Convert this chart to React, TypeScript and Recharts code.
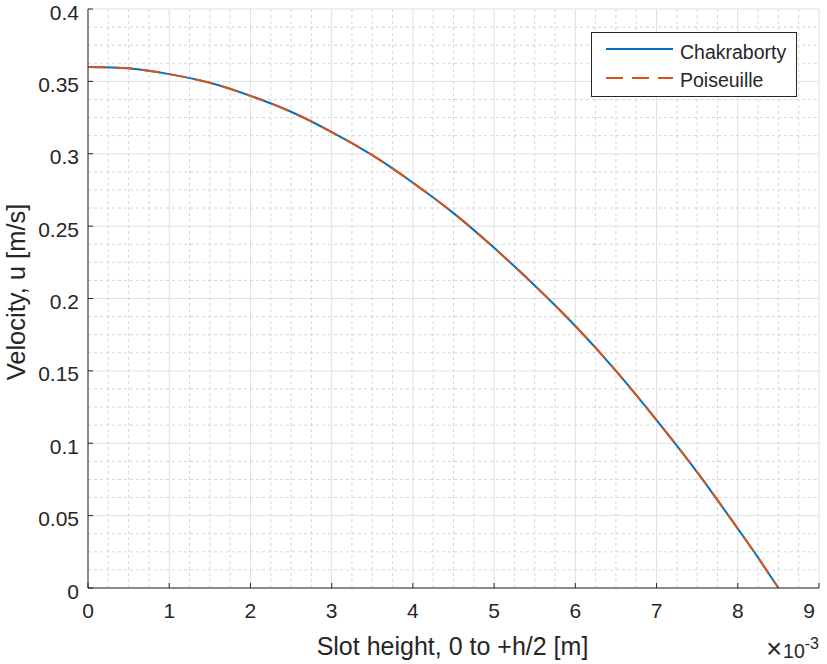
import {
  LineChart,
  Line,
  XAxis,
  YAxis,
  CartesianGrid,
  ReferenceLine,
  Legend,
  Label
} from "recharts";

// slot height in metres, velocities in m/s
const slotHeight = [0, 0.0005, 0.001, 0.0015, 0.002, 0.0025, 0.003, 0.0035, 0.004, 0.0045, 0.005, 0.0055, 0.006, 0.0065, 0.007, 0.0075, 0.008, 0.00825, 0.0085];
const chakraborty = [0.360, 0.359, 0.355, 0.349, 0.340, 0.329, 0.315, 0.299, 0.280, 0.259, 0.235, 0.209, 0.181, 0.150, 0.116, 0.080, 0.041, 0.021, 0.000];
const poiseuille = [0.360, 0.359, 0.355, 0.349, 0.340, 0.329, 0.315, 0.299, 0.280, 0.259, 0.235, 0.209, 0.181, 0.150, 0.116, 0.080, 0.041, 0.021, 0.000];

const xTicks = [0, 0.001, 0.002, 0.003, 0.004, 0.005, 0.006, 0.007, 0.008, 0.009];
const yTicks = [0, 0.05, 0.1, 0.15, 0.2, 0.25, 0.3, 0.35, 0.4];

const BLUE = "#0072BD";
const ORANGE = "#D95319";
const INK = "#262626";
const FONT = "'Liberation Sans', Arial, Helvetica, sans-serif";

// minor grid: 4 subdivisions per major step
const xMinor: number[] = [];
for (let i = 1; i < 36; i++) if (i % 4 !== 0) xMinor.push(i * 0.00025);
const yMinor: number[] = [];
for (let i = 1; i < 32; i++) if (i % 4 !== 0) yMinor.push(i * 0.0125);

const data = slotHeight.map((x, i) => ({
  x,
  chak: chakraborty[i],
  pois: poiseuille[i]
}));

const XTick = ({ x, y, payload }: any) => (
  <text x={x} y={y + 15} textAnchor="middle" fontSize={21} fill={INK} fontFamily={FONT}>
    {Math.round(payload.value * 1000)}
  </text>
);

const YTick = ({ x, y, payload }: any) => (
  <text x={x} y={y + 10.5} textAnchor="end" fontSize={21} fill={INK} fontFamily={FONT}>
    {String(+payload.value.toFixed(2))}
  </text>
);

const XLabel = ({ viewBox }: any) => {
  const cx = viewBox.x + viewBox.width / 2;
  const right = viewBox.x + viewBox.width;
  return (
    <g fontFamily={FONT} fill={INK}>
      <text x={cx - 1} y={655} textAnchor="middle" fontSize={25}>
        Slot height, 0 to +h/2 [m]
      </text>
      <text x={right} y={658} textAnchor="end" fontSize={19.5}>
        <tspan fontSize={27}>×</tspan>
        <tspan dx={1}>10</tspan>
        <tspan dy={-9} fontSize={16}>-3</tspan>
      </text>
    </g>
  );
};

const YLabel = () => (
  <text
    x={25}
    y={292}
    transform="rotate(-90, 25, 292)"
    textAnchor="middle"
    fontSize={25.5}
    fill={INK}
    fontFamily={FONT}
  >
    Velocity, u [m/s]
  </text>
);

const LegendBox = () => (
  <svg width={206} height={65} style={{ display: "block" }}>
    <rect x={0.5} y={0.5} width={205} height={64} fill="#fff" stroke={INK} strokeWidth={1} />
    <line x1={15} x2={82} y1={17} y2={17} stroke={BLUE} strokeWidth={2} />
    <text x={89} y={27} fontSize={19.5} fill={INK} fontFamily={FONT}>Chakraborty</text>
    <line x1={15} x2={82} y1={46} y2={46} stroke={ORANGE} strokeWidth={2} strokeDasharray="17 9" />
    <text x={89} y={55} fontSize={19.5} fill={INK} fontFamily={FONT}>Poiseuille</text>
  </svg>
);

export default function App() {
  return (
    <div style={{ position: "absolute", left: 0, top: 0, width: 827, height: 664, background: "#fff" }}>
      <LineChart
        width={827}
        height={664}
        data={data}
        margin={{ top: 9, right: 8, left: 0, bottom: 0 }}
      >
        <CartesianGrid stroke="#e0e0e0" strokeWidth={1} />
        {xMinor.map(v => (
          <ReferenceLine key={`xm-${v}`} x={v} stroke="#d6d6d6" strokeDasharray="3 3" />
        ))}
        {yMinor.map(v => (
          <ReferenceLine key={`ym-${v}`} y={v} stroke="#d6d6d6" strokeDasharray="3 3" />
        ))}

        <XAxis
          dataKey="x"
          type="number"
          domain={[0, 0.009]}
          ticks={xTicks}
          allowDataOverflow
          height={76}
          stroke={INK}
          tickSize={-5}
          tickMargin={20}
          tick={<XTick />}
        >
          <Label content={<XLabel />} />
        </XAxis>
        <XAxis
          xAxisId="top"
          orientation="top"
          type="number"
          domain={[0, 0.009]}
          ticks={xTicks}
          height={0}
          stroke={INK}
          tickSize={-5}
          tick={false}
        />
        <YAxis
          type="number"
          domain={[0, 0.4]}
          ticks={yTicks}
          width={88}
          stroke={INK}
          tickSize={-5}
          tickMargin={14}
          tick={<YTick />}
        >
          <Label content={<YLabel />} />
        </YAxis>
        <YAxis
          yAxisId="right"
          orientation="right"
          type="number"
          domain={[0, 0.4]}
          ticks={yTicks}
          width={0}
          stroke={INK}
          tickSize={-5}
          tick={false}
        />

        <Line
          dataKey="chak"
          name="Chakraborty"
          type="natural"
          stroke={BLUE}
          strokeWidth={2}
          dot={false}
          isAnimationActive={false}
        />
        <Line
          dataKey="pois"
          name="Poiseuille"
          type="natural"
          stroke={ORANGE}
          strokeWidth={2}
          strokeDasharray="18 9"
          dot={false}
          isAnimationActive={false}
        />

        <Legend
          layout="vertical"
          align="center"
          verticalAlign="middle"
          content={<LegendBox />}
          wrapperStyle={{ position: "absolute", left: 591, top: 32, width: 206, height: 65 }}
        />
      </LineChart>
    </div>
  );
}
